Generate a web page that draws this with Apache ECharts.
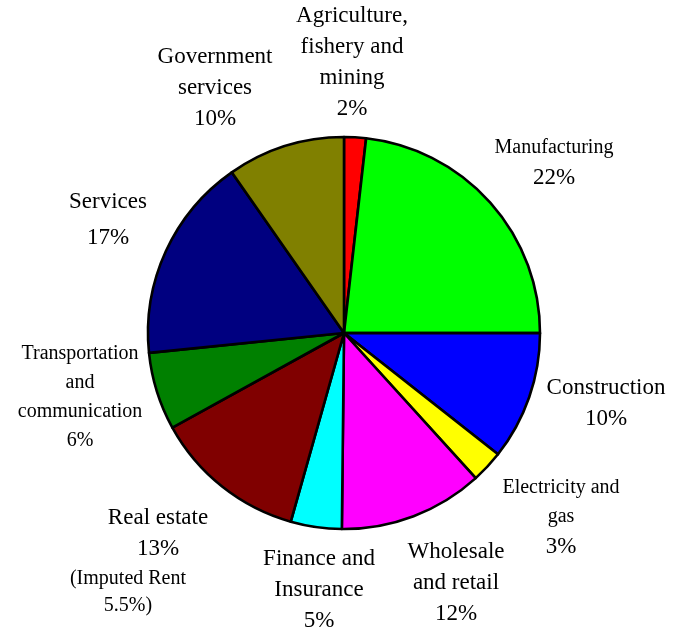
<!DOCTYPE html>
<html>
<head>
<meta charset="utf-8">
<script src="https://cdn.jsdelivr.net/npm/echarts@6/dist/echarts.min.js"></script>
<style>html,body{margin:0;padding:0;background:#fff;}#c{width:688px;height:631px;}</style>
</head>
<body>
<div id="c"></div>
<script>
// Data (slice sizes, clockwise from 12 o'clock)
var categories = ['Agriculture, fishery and mining','Manufacturing','Construction','Electricity and gas','Wholesale and retail','Finance and Insurance','Real estate','Transportation and communication','Services','Government services'];
var values = [1.8, 23.2, 10.6, 2.65, 11.9, 4.2, 12.6, 6.4, 16.9, 9.7];
var percentLabels = ['2%','22%','10%','3%','12%','5%','13%','6%','17%','10%'];
var colors = ['#FF0000','#00FF00','#0000FF','#FFFF00','#FF00FF','#00FFFF','#800000','#008000','#000080','#808000'];

// Label text (rich), kept separate from data
var labelTexts = [
  '{b|Agriculture,}\n{b|fishery and}\n{b|mining}\n{b|' + percentLabels[0] + '}',
  '{s|Manufacturing}\n{b|' + percentLabels[1] + '}',
  '{b|Construction}\n{b|' + percentLabels[2] + '}',
  '{s|Electricity and}\n{s|gas}\n{b|' + percentLabels[3] + '}',
  '{b|Wholesale}\n{b|and retail}\n{b|' + percentLabels[4] + '}',
  '{b|Finance and}\n{b|Insurance}\n{b|' + percentLabels[5] + '}',
  '{b|Real estate}\n{b|' + percentLabels[6] + '}\n{r1|(Imputed Rent}\n{r2|5.5%)}',
  '{s|Transportation}\n{s|and}\n{s|communication}\n{s|' + percentLabels[7] + '}',
  '{b2|Services}\n{b2|' + percentLabels[8] + '}',
  '{b|Government}\n{b|services}\n{b|' + percentLabels[9] + '}'
];
var labelPos = [[352,62],[554,163],[606,403],[561,518],[456,583],[319,590],[158,560],[80,397],[108,220],[215,88]];

var chart = echarts.init(document.getElementById('c'), null, {renderer:'canvas'});
var font = '"Liberation Serif","Times New Roman",serif';
chart.setOption({
  animation: false,
  series: [{
    type: 'pie',
    center: [344, 333],
    radius: 196,
    startAngle: 90,
    clockwise: true,
    avoidLabelOverlap: false,
    itemStyle: { borderColor: '#000', borderWidth: 2.6 },
    emphasis: { disabled: true },
    labelLine: { show: false },
    label: {
      show: true,
      position: 'outside',
      fontFamily: font,
      color: '#000',
      formatter: function (p) { return labelTexts[p.dataIndex]; },
      rich: {
        b: { fontFamily: font, fontSize: 23, lineHeight: 31, color: '#000', align: 'center' },
        b2: { fontFamily: font, fontSize: 23, lineHeight: 36, color: '#000', align: 'center' },
        s: { fontFamily: font, fontSize: 20, lineHeight: 29, color: '#000', align: 'center' },
        r1: { fontFamily: font, fontSize: 20, lineHeight: 29, color: '#000', align: 'center', padding: [0, 60, 0, 0] },
        r2: { fontFamily: font, fontSize: 20, lineHeight: 25, color: '#000', align: 'center', padding: [0, 60, 0, 0] }
      }
    },
    labelLayout: function (p) {
      var pos = labelPos[p.dataIndex];
      return { x: pos[0], y: pos[1], align: 'center', verticalAlign: 'middle' };
    },
    data: categories.map(function (c, i) {
      return { name: c, value: values[i], itemStyle: { color: colors[i] } };
    })
  }]
});
</script>
</body>
</html>
